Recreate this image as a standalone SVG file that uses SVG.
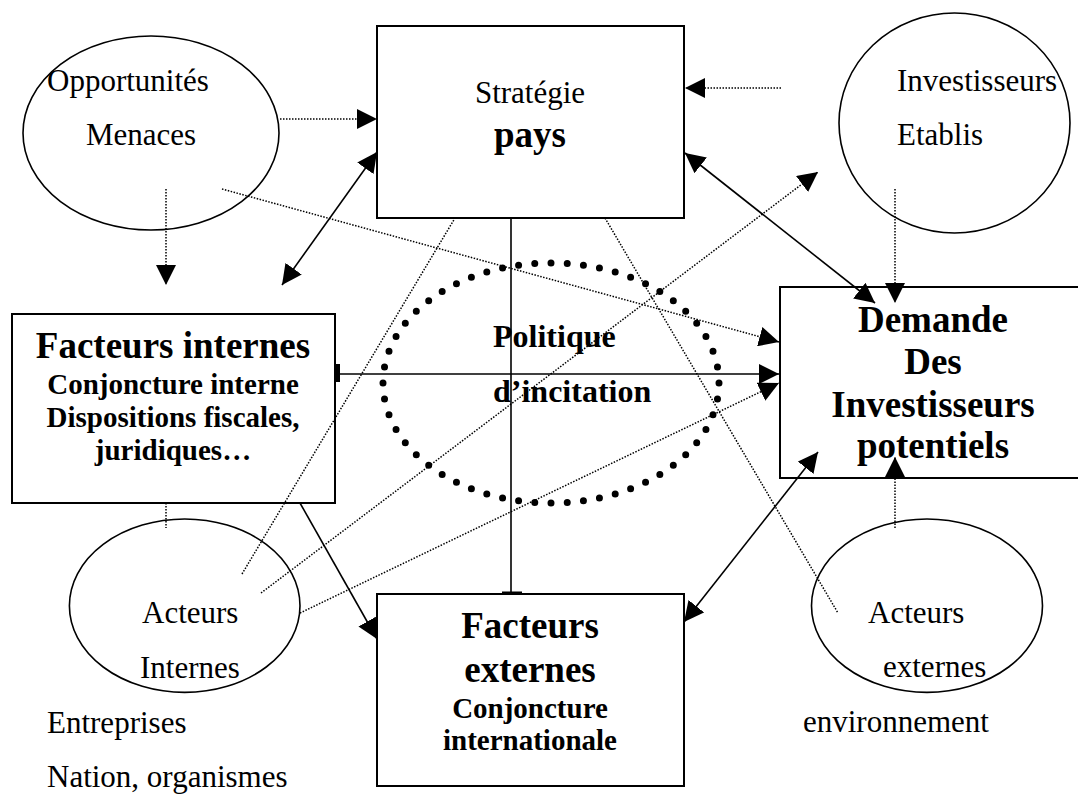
<svg xmlns="http://www.w3.org/2000/svg" width="1078" height="794" viewBox="0 0 1078 794">
  <style>
    text { font-family: "Liberation Serif", "Times New Roman", serif; fill: #000; }
    .reg { font-size: 31px; }
    .big { font-size: 37px; font-weight: bold; }
    .mid { font-size: 29px; font-weight: bold; }
    .pol { font-size: 32px; font-weight: bold; }
    .box { fill: none; stroke: #000; stroke-width: 2; }
    .oval { fill: none; stroke: #000; stroke-width: 1.6; }
    .solid { fill: none; stroke: #000; stroke-width: 1.6; }
    .dot { fill: none; stroke: #000; stroke-width: 1.5; stroke-dasharray: 1.5 1.5; }
  </style>
  <defs>
    <marker id="arrow" markerUnits="userSpaceOnUse" markerWidth="20" markerHeight="20" refX="20" refY="10" orient="auto-start-reverse" viewBox="0 0 20 20">
      <path d="M0,0 L20,10 L0,20 Z" fill="#000"/>
    </marker>
  </defs>

  <rect width="1078" height="794" fill="#fff"/>

  <!-- policy ring -->
  <g id="politique">
    <ellipse cx="551" cy="383" rx="168" ry="120" fill="none" stroke="#000" stroke-width="7" stroke-linecap="round" pathLength="56" stroke-dasharray="0 1"/>
    <text class="pol" x="493" y="347">Politique</text>
    <text class="pol" x="493" y="402">d’incitation</text>
  </g>

  <g id="opportunites">
    <ellipse class="oval" cx="151" cy="133" rx="128" ry="97"/>
    <text class="reg" x="47" y="91">Opportunités</text>
    <text class="reg" x="86" y="145">Menaces</text>
  </g>

  <g id="strategie">
    <rect class="box" x="377" y="26" width="307" height="192"/>
    <text class="reg" x="530" y="103" text-anchor="middle">Stratégie</text>
    <text class="big" x="530" y="147" text-anchor="middle">pays</text>
  </g>

  <g id="investisseurs">
    <ellipse class="oval" cx="954.5" cy="123" rx="115.5" ry="110"/>
    <text class="reg" x="897" y="91">Investisseurs</text>
    <text class="reg" x="897" y="145">Etablis</text>
  </g>

  <g id="facteurs-internes">
    <rect class="box" x="12" y="314" width="323" height="189"/>
    <text class="big" x="173" y="358" text-anchor="middle">Facteurs internes</text>
    <text class="mid" x="173" y="394" text-anchor="middle">Conjoncture interne</text>
    <text class="mid" x="173" y="427" text-anchor="middle">Dispositions fiscales,</text>
    <text class="mid" x="173" y="460" text-anchor="middle">juridiques…</text>
  </g>

  <g id="demande">
    <rect class="box" x="780" y="287" width="307" height="191"/>
    <text class="big" x="933" y="332" text-anchor="middle">Demande</text>
    <text class="big" x="933" y="374" text-anchor="middle">Des</text>
    <text class="big" x="933" y="417" text-anchor="middle">Investisseurs</text>
    <text class="big" x="933" y="458" text-anchor="middle">potentiels</text>
  </g>

  <g id="acteurs-internes">
    <ellipse class="oval" cx="184.7" cy="605.7" rx="115.3" ry="86.7"/>
    <text class="reg" x="142" y="623">Acteurs</text>
    <text class="reg" x="140" y="678">Internes</text>
    <text class="reg" x="47" y="733">Entreprises</text>
    <text class="reg" x="47" y="787">Nation, organismes</text>
  </g>

  <g id="facteurs-externes">
    <rect class="box" x="377" y="594" width="307" height="192"/>
    <text class="big" x="530" y="638" text-anchor="middle">Facteurs</text>
    <text class="big" x="530" y="682" text-anchor="middle">externes</text>
    <text class="mid" x="530" y="718" text-anchor="middle">Conjoncture</text>
    <text class="mid" x="530" y="750" text-anchor="middle">internationale</text>
  </g>

  <g id="acteurs-externes">
    <ellipse class="oval" cx="927" cy="605.7" rx="115.5" ry="86.7"/>
    <text class="reg" x="868" y="623">Acteurs</text>
    <text class="reg" x="883" y="677">externes</text>
    <text class="reg" x="803" y="732">environnement</text>
  </g>

  <g id="connectors">
    <!-- dotted influences -->
    <line class="dot" x1="280" y1="119" x2="377" y2="119" marker-end="url(#arrow)"/>
    <line class="dot" x1="166" y1="189" x2="166" y2="285" marker-end="url(#arrow)"/>
    <line class="dot" x1="222" y1="189" x2="779" y2="342" marker-end="url(#arrow)"/>
    <line class="dot" x1="781" y1="88" x2="685" y2="88" marker-end="url(#arrow)"/>
    <line class="dot" x1="895" y1="189" x2="895" y2="303" marker-end="url(#arrow)"/>
    <line class="dot" x1="261" y1="593" x2="818" y2="172" marker-end="url(#arrow)"/>
    <line class="dot" x1="242" y1="574" x2="455" y2="218"/>
    <line class="dot" x1="605" y1="218" x2="838" y2="613"/>
    <line class="dot" x1="166" y1="503" x2="166" y2="528"/>
    <line class="dot" x1="300" y1="613" x2="779" y2="383" marker-end="url(#arrow)"/>
    <line class="dot" x1="895" y1="528" x2="895" y2="457" marker-end="url(#arrow)"/>

    <!-- solid relations -->
    <line class="solid" x1="282" y1="285" x2="377" y2="152" marker-start="url(#arrow)" marker-end="url(#arrow)"/>
    <line class="solid" x1="685" y1="153" x2="875" y2="303" marker-start="url(#arrow)" marker-end="url(#arrow)"/>
    <line class="solid" x1="684" y1="622" x2="818" y2="452" marker-start="url(#arrow)" marker-end="url(#arrow)"/>
    <line class="solid" x1="300" y1="503" x2="377" y2="639" marker-end="url(#arrow)"/>
    <line class="solid" x1="338" y1="374" x2="779" y2="374" marker-end="url(#arrow)"/>
    <rect x="335" y="364" width="5" height="18" fill="#000"/>
    <line class="solid" x1="511" y1="218" x2="511" y2="593"/>
    <rect x="502" y="591.5" width="20" height="3" fill="#000"/>
  </g>
</svg>
